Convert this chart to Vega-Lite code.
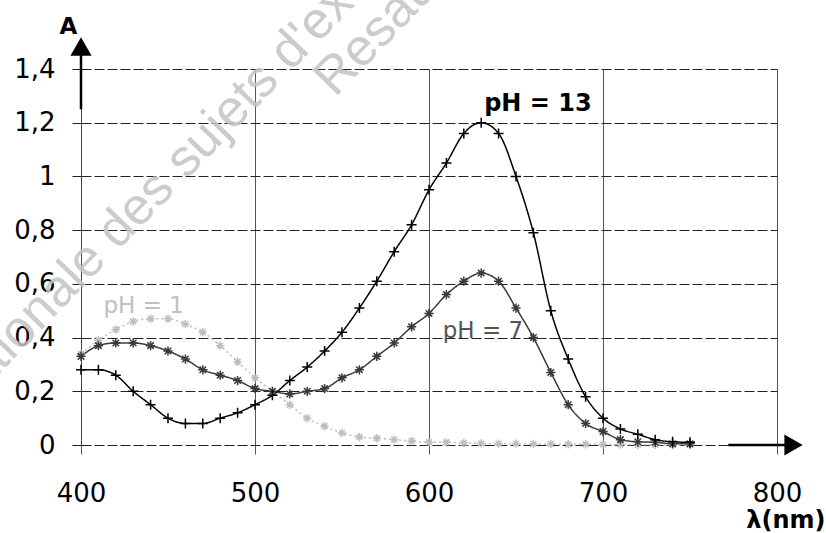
{
  "$schema": "https://vega.github.io/schema/vega-lite/v6.json",
  "width": 696,
  "height": 376,
  "autosize": {"type": "none"},
  "padding": {"left": 81, "top": 69, "right": 49, "bottom": 88},
  "background": "white",
  "config": {
    "view": {"stroke": null},
    "font": "DejaVu Sans",
    "axis": {"labelFont": "DejaVu Sans", "titleFont": "DejaVu Sans", "labelColor": "#000", "titleColor": "#000"}
  },
  "datasets": {
    "spectra": [
      {"series": "pH1", "wl": 400, "A": 0.34}, {"series": "pH1", "wl": 410, "A": 0.39}, {"series": "pH1", "wl": 420, "A": 0.43}, {"series": "pH1", "wl": 430, "A": 0.46}, {"series": "pH1", "wl": 440, "A": 0.47}, {"series": "pH1", "wl": 450, "A": 0.47}, {"series": "pH1", "wl": 460, "A": 0.45}, {"series": "pH1", "wl": 470, "A": 0.42}, {"series": "pH1", "wl": 480, "A": 0.37}, {"series": "pH1", "wl": 490, "A": 0.31}, {"series": "pH1", "wl": 500, "A": 0.25}, {"series": "pH1", "wl": 510, "A": 0.2}, {"series": "pH1", "wl": 520, "A": 0.15}, {"series": "pH1", "wl": 530, "A": 0.1}, {"series": "pH1", "wl": 540, "A": 0.07}, {"series": "pH1", "wl": 550, "A": 0.045}, {"series": "pH1", "wl": 560, "A": 0.03}, {"series": "pH1", "wl": 570, "A": 0.025}, {"series": "pH1", "wl": 580, "A": 0.02}, {"series": "pH1", "wl": 590, "A": 0.015}, {"series": "pH1", "wl": 600, "A": 0.01}, {"series": "pH1", "wl": 610, "A": 0.01}, {"series": "pH1", "wl": 620, "A": 0.008}, {"series": "pH1", "wl": 630, "A": 0.006}, {"series": "pH1", "wl": 640, "A": 0.005}, {"series": "pH1", "wl": 650, "A": 0.005}, {"series": "pH1", "wl": 660, "A": 0.004}, {"series": "pH1", "wl": 670, "A": 0.004}, {"series": "pH1", "wl": 680, "A": 0.003}, {"series": "pH1", "wl": 690, "A": 0.003}, {"series": "pH1", "wl": 700, "A": 0.002}, {"series": "pH1", "wl": 710, "A": 0.002}, {"series": "pH1", "wl": 720, "A": 0.001}, {"series": "pH1", "wl": 730, "A": 0.001}, {"series": "pH1", "wl": 740, "A": 0.0}, {"series": "pH1", "wl": 750, "A": 0.0},
      {"series": "pH7", "wl": 400, "A": 0.33}, {"series": "pH7", "wl": 410, "A": 0.37}, {"series": "pH7", "wl": 420, "A": 0.38}, {"series": "pH7", "wl": 430, "A": 0.38}, {"series": "pH7", "wl": 440, "A": 0.37}, {"series": "pH7", "wl": 450, "A": 0.35}, {"series": "pH7", "wl": 460, "A": 0.32}, {"series": "pH7", "wl": 470, "A": 0.28}, {"series": "pH7", "wl": 480, "A": 0.26}, {"series": "pH7", "wl": 490, "A": 0.24}, {"series": "pH7", "wl": 500, "A": 0.21}, {"series": "pH7", "wl": 510, "A": 0.2}, {"series": "pH7", "wl": 520, "A": 0.19}, {"series": "pH7", "wl": 530, "A": 0.2}, {"series": "pH7", "wl": 540, "A": 0.21}, {"series": "pH7", "wl": 550, "A": 0.25}, {"series": "pH7", "wl": 560, "A": 0.28}, {"series": "pH7", "wl": 570, "A": 0.33}, {"series": "pH7", "wl": 580, "A": 0.38}, {"series": "pH7", "wl": 590, "A": 0.44}, {"series": "pH7", "wl": 600, "A": 0.49}, {"series": "pH7", "wl": 610, "A": 0.56}, {"series": "pH7", "wl": 620, "A": 0.61}, {"series": "pH7", "wl": 630, "A": 0.64}, {"series": "pH7", "wl": 640, "A": 0.61}, {"series": "pH7", "wl": 650, "A": 0.51}, {"series": "pH7", "wl": 660, "A": 0.4}, {"series": "pH7", "wl": 670, "A": 0.27}, {"series": "pH7", "wl": 680, "A": 0.15}, {"series": "pH7", "wl": 690, "A": 0.08}, {"series": "pH7", "wl": 700, "A": 0.05}, {"series": "pH7", "wl": 710, "A": 0.02}, {"series": "pH7", "wl": 720, "A": 0.012}, {"series": "pH7", "wl": 730, "A": 0.01}, {"series": "pH7", "wl": 740, "A": 0.005}, {"series": "pH7", "wl": 750, "A": 0.005},
      {"series": "pH13", "wl": 400, "A": 0.28}, {"series": "pH13", "wl": 410, "A": 0.28}, {"series": "pH13", "wl": 420, "A": 0.26}, {"series": "pH13", "wl": 430, "A": 0.2}, {"series": "pH13", "wl": 440, "A": 0.15}, {"series": "pH13", "wl": 450, "A": 0.1}, {"series": "pH13", "wl": 460, "A": 0.08}, {"series": "pH13", "wl": 470, "A": 0.08}, {"series": "pH13", "wl": 480, "A": 0.1}, {"series": "pH13", "wl": 490, "A": 0.12}, {"series": "pH13", "wl": 500, "A": 0.15}, {"series": "pH13", "wl": 510, "A": 0.185}, {"series": "pH13", "wl": 520, "A": 0.24}, {"series": "pH13", "wl": 530, "A": 0.29}, {"series": "pH13", "wl": 540, "A": 0.35}, {"series": "pH13", "wl": 550, "A": 0.42}, {"series": "pH13", "wl": 560, "A": 0.51}, {"series": "pH13", "wl": 570, "A": 0.61}, {"series": "pH13", "wl": 580, "A": 0.72}, {"series": "pH13", "wl": 590, "A": 0.82}, {"series": "pH13", "wl": 600, "A": 0.95}, {"series": "pH13", "wl": 610, "A": 1.05}, {"series": "pH13", "wl": 620, "A": 1.16}, {"series": "pH13", "wl": 630, "A": 1.2}, {"series": "pH13", "wl": 640, "A": 1.16}, {"series": "pH13", "wl": 650, "A": 1.0}, {"series": "pH13", "wl": 660, "A": 0.79}, {"series": "pH13", "wl": 670, "A": 0.5}, {"series": "pH13", "wl": 680, "A": 0.32}, {"series": "pH13", "wl": 690, "A": 0.18}, {"series": "pH13", "wl": 700, "A": 0.1}, {"series": "pH13", "wl": 710, "A": 0.06}, {"series": "pH13", "wl": 720, "A": 0.04}, {"series": "pH13", "wl": 730, "A": 0.02}, {"series": "pH13", "wl": 740, "A": 0.012}, {"series": "pH13", "wl": 750, "A": 0.01}
    ],
    "labels": [
      {"series": "pH13", "label": "pH = 13", "wl": 662.6, "A": 1.243},
      {"series": "pH7", "label": "pH = 7", "wl": 631, "A": 0.398},
      {"series": "pH1", "label": "pH = 1", "wl": 436, "A": 0.49}
    ],
    "watermark": [
      {"label": "nationale des sujets d'examens", "wl": 331.3, "A": 0.119},
      {"label": "Resau", "wl": 546, "A": 1.292}
    ],
    "axisLines": [
      {"axis": "y", "wl": 400, "wl2": 400, "A": 1.25, "A2": 1.46},
      {"axis": "x", "wl": 772, "wl2": 806, "A": 0, "A2": 0}
    ],
    "axisHeads": [
      {"axis": "y", "dir": "up", "wl": 400, "A": 1.4836},
      {"axis": "x", "dir": "right", "wl": 809.5, "A": 0}
    ]
  },
  "encoding": {
    "x": {
      "field": "wl", "type": "quantitative",
      "scale": {"domain": [400, 800], "nice": false, "zero": false},
      "axis": {
        "values": [400, 500, 600, 700, 800],
        "grid": true, "gridColor": "#555", "gridWidth": 1,
        "domain": false, "ticks": true, "tickSize": 9, "tickColor": "#555",
        "labelFontSize": 26, "labelPadding": 26, "labelFlush": false, "labelOverlap": false,
        "title": "λ(nm)", "titleFontSize": 24, "titleFontWeight": "bold",
        "titleX": 744, "titleY": 82, "titleAlign": "right", "titleBaseline": "alphabetic", "titleAnchor": "end"
      }
    },
    "y": {
      "field": "A", "type": "quantitative",
      "scale": {"domain": [0, 1.4], "nice": false, "zero": true},
      "axis": {
        "values": [0, 0.2, 0.4, 0.6, 0.8, 1, 1.2, 1.4],
        "labelExpr": "replace(format(datum.value, '~g'), '.', ',')",
        "grid": true, "gridColor": "#222", "gridDash": [10, 3], "gridWidth": 1,
        "domain": true, "domainColor": "#444", "domainWidth": 1,
        "ticks": true, "tickSize": 9, "tickColor": "#222",
        "labelFontSize": 26, "labelPadding": 17,
        "title": "A", "titleAngle": 0, "titleFontSize": 23, "titleFontWeight": "bold",
        "titleX": -13, "titleY": -36, "titleAlign": "center", "titleBaseline": "alphabetic"
      }
    }
  },
  "layer": [
    {
      "data": {"name": "watermark"},
      "mark": {"type": "text", "angle": -46, "fontSize": 52, "font": "Liberation Sans", "color": "#c4c4c4", "align": "left", "baseline": "alphabetic", "opacity": 0.85},
      "encoding": {"text": {"field": "label"}}
    },
    {
      "data": {"name": "spectra"},
      "mark": {"type": "line", "interpolate": "monotone"},
      "encoding": {
        "color": {"field": "series", "type": "nominal", "scale": {"domain": ["pH1", "pH7", "pH13"], "range": ["#bdbdbd", "#3a3a3a", "#000000"]}, "legend": null},
        "strokeWidth": {"field": "series", "type": "ordinal", "scale": {"domain": ["pH1", "pH7", "pH13"], "range": [1.5, 1.5, 2]}, "legend": null},
        "strokeDash": {"field": "series", "type": "nominal", "scale": {"domain": ["pH1", "pH7", "pH13"], "range": [[2, 3], [1, 0], [1, 0]]}, "legend": null}
      }
    },
    {
      "data": {"name": "spectra"},
      "mark": {"type": "point", "filled": false, "opacity": 1},
      "encoding": {
        "color": {"field": "series", "type": "nominal", "scale": {"domain": ["pH1", "pH7", "pH13"], "range": ["#bdbdbd", "#3a3a3a", "#000000"]}, "legend": null},
        "shape": {"field": "series", "type": "nominal", "scale": {"domain": ["pH1", "pH7", "pH13"], "range": ["M-1,0L1,0M-0.7,-0.7L0.7,0.7M-0.7,0.7L0.7,-0.7M0,-1L0,1", "M-1,0L1,0M-0.7,-0.7L0.7,0.7M-0.7,0.7L0.7,-0.7M0,-1L0,1", "M-1,0L1,0M0,-1L0,1"]}, "legend": null},
        "size": {"field": "series", "type": "ordinal", "scale": {"domain": ["pH1", "pH7", "pH13"], "range": [70, 100, 196]}, "legend": null},
        "strokeWidth": {"field": "series", "type": "ordinal", "scale": {"domain": ["pH1", "pH7", "pH13"], "range": [1, 1.2, 2]}, "legend": null}
      }
    },
    {
      "data": {"name": "labels"},
      "transform": [{"filter": "datum.series === 'pH13'"}],
      "mark": {"type": "text", "fontSize": 24, "fontWeight": "bold", "color": "#000", "align": "center", "baseline": "alphabetic"},
      "encoding": {"text": {"field": "label"}}
    },
    {
      "data": {"name": "labels"},
      "transform": [{"filter": "datum.series === 'pH7'"}],
      "mark": {"type": "text", "fontSize": 23, "color": "#555", "align": "center", "baseline": "alphabetic"},
      "encoding": {"text": {"field": "label"}}
    },
    {
      "data": {"name": "labels"},
      "transform": [{"filter": "datum.series === 'pH1'"}],
      "mark": {"type": "text", "fontSize": 23, "color": "#c0c0c0", "align": "center", "baseline": "alphabetic"},
      "encoding": {"text": {"field": "label"}}
    },
    {
      "data": {"name": "axisLines"},
      "mark": {"type": "rule", "color": "#000", "strokeWidth": 2.5, "clip": false},
      "encoding": {"x2": {"field": "wl2"}, "y2": {"field": "A2"}}
    },
    {
      "data": {"name": "axisHeads"},
      "transform": [{"filter": "datum.dir === 'up'"}],
      "mark": {"type": "point", "shape": "triangle-up", "filled": true, "color": "#000", "strokeWidth": 0, "size": 450, "opacity": 1, "clip": false},
      "encoding": {}
    },
    {
      "data": {"name": "axisHeads"},
      "transform": [{"filter": "datum.dir === 'right'"}],
      "mark": {"type": "point", "shape": "triangle-right", "filled": true, "color": "#000", "strokeWidth": 0, "size": 450, "opacity": 1, "clip": false},
      "encoding": {}
    }
  ]
}
